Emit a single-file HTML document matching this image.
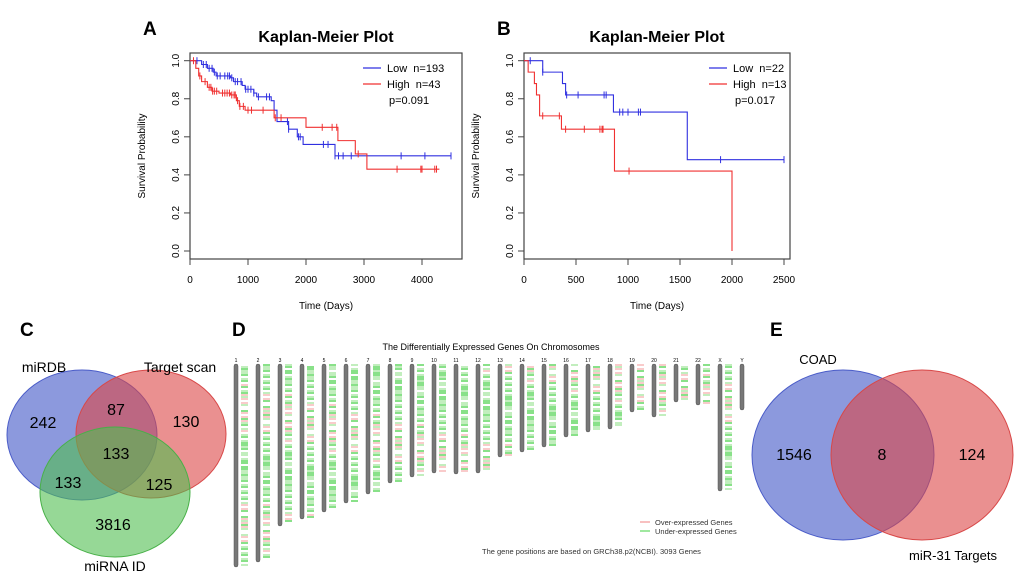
<!DOCTYPE html>
<html><head><meta charset="utf-8"><style>
body{margin:0;background:#fff}
svg{display:block;font-family:"Liberation Sans",Arial,sans-serif}
text{white-space:pre}
</style></head><body>
<svg id="fig" width="1020" height="578" viewBox="0 0 1020 578">
<g id="panelA"></g>
<g id="panelB"></g>
<g>
<text x="20" y="336" font-size="19" font-weight="bold">C</text>
<ellipse cx="82" cy="435" rx="75" ry="65" fill="rgba(70,90,200,0.62)" stroke="#4a5cc8" stroke-width="1"/>
<ellipse cx="151" cy="434" rx="75" ry="64" fill="rgba(220,70,70,0.6)" stroke="#d84848" stroke-width="1"/>
<ellipse cx="115" cy="492" rx="75" ry="65" fill="rgba(80,190,80,0.6)" stroke="#48b048" stroke-width="1"/>
<g font-size="14" text-anchor="middle">
<text x="44" y="372">miRDB</text>
<text x="180" y="372">Target scan</text>
<text x="115" y="571">miRNA ID</text>
</g>
<g font-size="16" text-anchor="middle">
<text x="43" y="428">242</text>
<text x="116" y="415">87</text>
<text x="186" y="427">130</text>
<text x="116" y="459">133</text>
<text x="68" y="488">133</text>
<text x="159" y="490">125</text>
<text x="113" y="530">3816</text>
</g>
</g>
<g id="panelD">
<text x="232" y="336" font-size="19" font-weight="bold">D</text>
<text x="491" y="350" font-size="9" text-anchor="middle">The Differentially Expressed Genes On Chromosomes</text>
<line x1="640" y1="522" x2="650" y2="522" stroke="#f08080"/>
<text x="655" y="525" font-size="7.5" fill="#333">Over-expressed Genes</text>
<line x1="640" y1="531" x2="650" y2="531" stroke="#40d040"/>
<text x="655" y="534" font-size="7.5" fill="#333">Under-expressed Genes</text>
<text x="482" y="554" font-size="7.5" fill="#333">The gene positions are based on GRCh38.p2(NCBI). 3093 Genes</text>
</g>
<g>
<text x="770" y="336" font-size="19" font-weight="bold">E</text>
<ellipse cx="843" cy="455" rx="91" ry="85" fill="rgba(70,90,200,0.62)" stroke="#4a5cc8"/>
<ellipse cx="922" cy="455" rx="91" ry="85" fill="rgba(220,70,70,0.6)" stroke="#d84848"/>
<text x="818" y="364" font-size="13" text-anchor="middle">COAD</text>
<text x="953" y="560" font-size="13" text-anchor="middle">miR-31 Targets</text>
<g font-size="16" text-anchor="middle">
<text x="794" y="460">1546</text>
<text x="882" y="460">8</text>
<text x="972" y="460">124</text>
</g>
</g>
</svg>
<script>
// Panel A data
const aLowT=[0,200,300,400,450,700,750,900,950,1100,1150,1400,1450,1500,1700,1850,1950,2500,4500];
const aLowS=[1.0,0.98,0.96,0.94,0.92,0.91,0.89,0.87,0.85,0.83,0.81,0.79,0.74,0.68,0.64,0.60,0.56,0.50,0.50];
const aHighT=[0,100,150,200,300,380,500,700,800,850,950,1450,2000,2550,2850,3050,4300];
const aHighS=[1.0,0.96,0.92,0.89,0.86,0.84,0.83,0.82,0.79,0.76,0.74,0.70,0.65,0.58,0.51,0.43,0.43];
const aLowC=[120,230,280,330,380,420,470,520,600,650,680,720,780,820,880,960,1000,1050,1100,1180,1320,1370,1680,1700,1870,1900,2300,2380,2500,2560,2640,2780,3640,4050,4500];
const aHighC=[60,170,260,330,360,390,420,460,560,600,640,680,720,760,780,820,860,920,1000,1060,1260,1470,1570,2280,2450,2530,2900,3570,3980,4000,4220,4250];
// Panel B data
const bLowT=[0,180,370,400,860,1570,2500];
const bLowS=[1.0,0.94,0.88,0.82,0.73,0.48,0.48];
const bHighT=[0,40,100,120,150,360,870,2000];
const bHighS=[1.0,0.94,0.88,0.82,0.71,0.64,0.42,0.0];
const bLowC=[60,180,410,520,770,790,920,950,1000,1100,1120,1890,2500];
const bHighC=[180,340,400,580,730,750,760,1010];
const aTicksX=[0,1000,2000,3000,4000];
const bTicksX=[0,500,1000,1500,2000,2500];
const yTicks=[0,0.2,0.4,0.6,0.8,1.0];

const NS='http://www.w3.org/2000/svg';
function mk(tag,attrs,parent){const e=document.createElementNS(NS,tag);for(const k in attrs)e.setAttribute(k,attrs[k]);parent.appendChild(e);return e;}

function survAt(T,S,t){let s=S[0];for(let i=0;i<T.length;i++){if(T[i]<=t)s=S[i];}return s;}

function km(g,cfg){
  const X=t=>cfg.x0+t*cfg.kx, Y=s=>cfg.y0-s*cfg.ky;
  const lbl=mk('text',{x:cfg.lx,y:35,'font-size':19,'font-weight':'bold'},g);lbl.textContent=cfg.letter;
  
  
  const ti=mk('text',{x:(cfg.left+cfg.right)/2,y:42,'font-size':16,'font-weight':'bold','text-anchor':'middle'},g);ti.textContent='Kaplan-Meier Plot';
  
  
  const box=mk('rect',{x:cfg.left,y:53,width:cfg.right-cfg.left,height:206,fill:'none',stroke:'#444','stroke-width':1.2},g);
  
  
  yTicks.forEach(v=>{
    const tk=mk('line',{x1:cfg.left-6,x2:cfg.left,y1:Y(v),y2:Y(v),stroke:'#444'},g);
    
    
    const t=mk('text',{x:cfg.left-11,y:Y(v),'font-size':10,'text-anchor':'middle',transform:`rotate(-90 ${cfg.left-11} ${Y(v)})`},g);t.textContent=v.toFixed(1);
    
    
  });
  cfg.ticks.forEach(v=>{
    const tk=mk('line',{x1:X(v),x2:X(v),y1:259,y2:265,stroke:'#444'},g);
    
    
    const t=mk('text',{x:X(v),y:283,'font-size':10,'text-anchor':'middle'},g);t.textContent=v;
    
    
  });
  const xl=mk('text',{x:(cfg.left+cfg.right)/2,y:309,'font-size':10,'text-anchor':'middle'},g);xl.textContent='Time (Days)';
  
  
  const yl=mk('text',{x:cfg.left-45,y:156,'font-size':10,'text-anchor':'middle',transform:`rotate(-90 ${cfg.left-45} 156)`},g);yl.textContent='Survival Probability';
  
  
  [[cfg.lowT,cfg.lowS,cfg.lowC,'#3030e0','low'],[cfg.highT,cfg.highS,cfg.highC,'#f03030','high']].forEach(([T,S,C,col,nm])=>{
    let d=`M${X(T[0])},${Y(S[0])}`;
    for(let i=1;i<T.length;i++){d+=`H${X(T[i])}V${Y(S[i])}`;}
    const p=mk('path',{d:d,fill:'none',stroke:col,'stroke-width':1.1},g);
    
    
    C.forEach(c=>{const y=Y(survAt(T,S,c));
      const m=mk('line',{x1:X(c),x2:X(c),y1:y-3.5,y2:y+3.5,stroke:col,'stroke-width':1},g);
      
      
    });
  });
  const lx=cfg.legX;
  [['#3030e0',cfg.lowLab,68],['#f03030',cfg.highLab,84]].forEach(([col,tx,y])=>{
    const l=mk('line',{x1:lx,x2:lx+18,y1:y,y2:y,stroke:col,'stroke-width':1.2},g);
    
    
    const t=mk('text',{x:lx+24,y:y+4,'font-size':11},g);t.textContent=tx;
    
    
  });
  const pv=mk('text',{x:lx+26,y:104,'font-size':11},g);pv.textContent=cfg.p;
  
  
}
km(document.getElementById('panelA'),{letter:'A',lx:143,left:190,right:462,x0:190,kx:232/4000,y0:251,ky:190.3,ticks:aTicksX,
 lowT:aLowT,lowS:aLowS,lowC:aLowC,highT:aHighT,highS:aHighS,highC:aHighC,legX:363,lowLab:'Low  n=193',highLab:'High  n=43',p:'p=0.091'});
km(document.getElementById('panelB'),{letter:'B',lx:497,left:524,right:790,x0:524,kx:208/2000,y0:251,ky:190.3,ticks:bTicksX,
 lowT:bLowT,lowS:bLowS,lowC:bLowC,highT:bHighT,highS:bHighS,highC:bHighC,legX:709,lowLab:'Low  n=22',highLab:'High  n=13',p:'p=0.017'});

// Panel D chromosomes
const chrNames=['1','2','3','4','5','6','7','8','9','10','11','12','13','14','15','16','17','18','19','20','21','22','X','Y'];
const chrBottom=[567,562,526,519,512,503,494,483,477,473,474,473,457,452,447,437,432,429,412,417,402,405,491,410];
const D=document.getElementById('panelD');
chrNames.forEach((n,i)=>{
  const x=236+i*22;
  const t=mk('text',{x:x,y:362,'font-size':5,'text-anchor':'middle'},D);t.textContent=n;
  
  
  const r=mk('rect',{x:x-2,y:364,width:4,height:chrBottom[i]-364,rx:2,fill:'#777',stroke:'#555','stroke-width':0.5},D);
  
  
  if(n!=='Y'){
    for(let y=365;y<chrBottom[i]-1;y+=2){
      const h=((i*131+Math.round(y*1.3)*17)%23);
      if(h<6)continue;
      const col=h%7===0?'#f4a0a0':(h>14?'#28c828':'#90e088');
      const l=mk('line',{x1:x+5,x2:x+12,y1:y,y2:y,stroke:col,'stroke-width':1.1},D);
      
      
    }
  }
});
</script>
</body></html>
